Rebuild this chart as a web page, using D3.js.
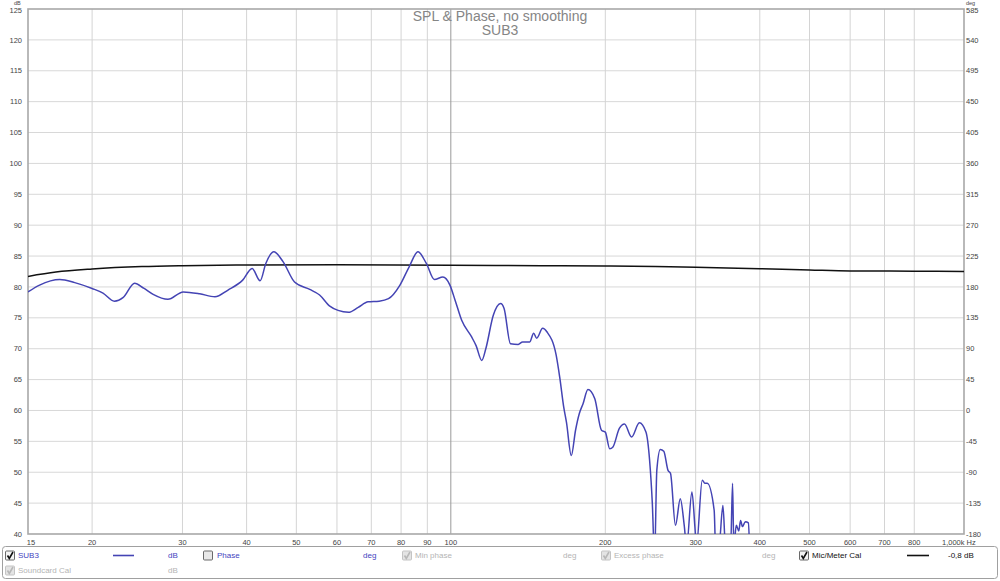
<!DOCTYPE html>
<html><head><meta charset="utf-8">
<script src="https://cdn.jsdelivr.net/npm/d3@7"></script>
<style>
html,body{margin:0;padding:0;background:#fff;}
svg{display:block;font-family:"Liberation Sans",Arial,sans-serif;}
</style></head>
<body>
<svg id="chart" width="1000" height="581"></svg>
<script>
// ---- data ----
const splFreq = [15,15.8,17.3,18.5,20,21,22.1,23,24.2,25.2,26.3,28.1,30.1,32.4,34.7,36.8,39.3,41,42.5,43.6,45.2,47.1,49.6,53.1,55.5,58.1,60.3,63.2,66,69,72.5,75.6,79.6,83,86.3,89.6,92.9,96.5,99.6,101.9,105,109.8,112,114.9,117,121,125,127,130.7,135.3,138,142.5,145,147,151,154,160.4,163,166,168,171.7,175,178,181,185,190.8,196.6,200,204,207,213,218,225,233,240,244,247,249.5,252,256,260,265,268,274,280,285,288,295,299,301,309,313,316,326,328,333,339,343,351,354,356,360,364,367,370,375,380,382];
const splDb   = [79.2,80.3,81.2,80.7,79.75,79.0,77.7,78.3,80.6,79.8,78.8,78.0,79.2,78.9,78.4,79.5,81.1,83.0,81.0,83.8,85.7,84.1,80.8,79.6,78.7,76.9,76.2,75.9,76.7,77.6,77.7,78.1,80.3,83.3,85.7,83.8,81.2,81.6,80.3,77.9,74.6,71.9,70.5,68.1,70.0,75.4,77.3,76.5,70.8,70.7,71.1,71.1,72.5,71.7,73.3,72.7,69.0,65.4,60.5,58.1,52.7,56.8,59.5,61.1,63.4,61.9,56.8,56.5,53.8,54.1,57.1,57.8,55.7,58.0,56.5,51.9,44.9,36,50.3,53.7,53.4,50.3,49.8,41.4,45.7,41.4,38,46.8,41.1,38,48.7,48.2,48.2,43.8,38,38,44.6,38,38,48.2,38,41.4,40.5,42.2,41.2,42.0,41.8,38];
const calFreq = [15,17,20,25,30,40,60,100,150,200,250,300,400,500,600,800,1000];
const calDb   = [81.7,82.4,82.9,83.3,83.45,83.55,83.6,83.5,83.45,83.4,83.3,83.2,82.95,82.75,82.6,82.55,82.5];
const xTicks = [15,20,30,40,50,60,70,80,90,100,200,300,400,500,600,700,800,1000];
const xTickLabels = ["15","20","30","40","50","60","70","80","90","100","200","300","400","500","600","700","800","1,000k Hz"];
const dbTicks = [40,45,50,55,60,65,70,75,80,85,90,95,100,105,110,115,120,125];
const degTicks = [-180,-135,-90,-45,0,45,90,135,180,225,270,315,360,405,450,495,540,585];
const title1 = "SPL & Phase, no smoothing";
const title2 = "SUB3";

// ---- scales ----
const L=28, R=964, T=9, B=534;
const x = d3.scaleLog().domain([15,1000]).range([L,R]);
const y = d3.scaleLinear().domain([40,125]).range([B,T]);
const y2 = d3.scaleLinear().domain([-180,585]).range([B,T]);

const svg = d3.select("#chart");
svg.append("defs").append("clipPath").attr("id","clip")
  .append("rect").attr("x",L).attr("y",T).attr("width",R-L).attr("height",B-T);

// grid
const grid = svg.append("g");
grid.selectAll("line.h").data(dbTicks.slice(1,-1)).join("line")
  .attr("x1",L).attr("x2",R).attr("y1",d=>y(d)).attr("y2",d=>y(d))
  .attr("stroke","#d8d8d8").attr("stroke-width",1);
grid.selectAll("line.v").data(xTicks.slice(1,-1)).join("line")
  .attr("x1",d=>x(d)).attr("x2",d=>x(d)).attr("y1",T).attr("y2",B)
  .attr("stroke",d=>d===100?"#9a9a9a":"#d4d4d4").attr("stroke-width",1);

// frame
svg.append("rect").attr("x",L).attr("y",T).attr("width",R-L).attr("height",B-T)
  .attr("fill","none").attr("stroke","#a8a8a8").attr("stroke-width",1.6);

// tick labels
const tf = {size:"7.5px", fill:"#444"};
svg.append("g").selectAll("text").data(dbTicks).join("text")
  .attr("x",22).attr("y",d=>y(d)+ (d===125?1.5:0)).attr("dy","0.35em").attr("text-anchor","end")
  .attr("font-size",tf.size).attr("fill",tf.fill).text(d=>d);
svg.append("g").selectAll("text").data(degTicks).join("text")
  .attr("x",966).attr("y",d=>y2(d)+ (d===585?1.5:0)).attr("dy","0.35em").attr("text-anchor","start")
  .attr("font-size",tf.size).attr("fill",tf.fill).text(d=>d);
svg.append("text").attr("x",14).attr("y",5).attr("font-size","5.5px").attr("fill",tf.fill).text("dB");
svg.append("text").attr("x",966).attr("y",5).attr("font-size","5.5px").attr("fill",tf.fill).text("deg");
svg.append("g").selectAll("text").data(xTicks).join("text")
  .attr("x",(d,i)=> i===0 ? x(d)+3 : (i===xTicks.length-1 ? x(d)-22 : x(d)))
  .attr("y",544.5)
  .attr("text-anchor",(d,i)=> i===xTicks.length-1 ? "start" : "middle")
  .attr("font-size",tf.size).attr("fill",tf.fill).text((d,i)=>xTickLabels[i]);

// title
svg.append("text").attr("x",500).attr("y",21).attr("text-anchor","middle")
  .attr("font-size","14px").attr("fill","#858585").text(title1);
svg.append("text").attr("x",500).attr("y",35).attr("text-anchor","middle")
  .attr("font-size","14px").attr("fill","#858585").text(title2);

// curves
const plot = svg.append("g").attr("clip-path","url(#clip)");
const line = d3.line().x(d=>x(d[0])).y(d=>y(d[1])).curve(d3.curveMonotoneX);
plot.append("path").datum(calFreq.map((f,i)=>[f,calDb[i]]))
  .attr("d",line).attr("fill","none").attr("stroke","#111").attr("stroke-width",1.5);
plot.append("path").datum(splFreq.map((f,i)=>[f,splDb[i]]))
  .attr("d",line).attr("fill","none").attr("stroke","#4444b4").attr("stroke-width",1.5);

// legend
const lg = svg.append("g");
lg.append("rect").attr("x",2.5).attr("y",546.5).attr("width",995).attr("height",32)
  .attr("rx",3).attr("fill","#fff").attr("stroke","#a0a0a0");
function checkbox(cx, cy, checked, grey){
  const g = lg.append("g");
  g.append("rect").attr("x",cx+0.5).attr("y",cy+0.5).attr("width",9).attr("height",9).attr("rx",1)
    .attr("fill", grey ? "#e4e4e4" : (checked ? "#f4f4f4" : "#e8e8e8"))
    .attr("stroke", grey ? "#c4c4c4" : "#6a6a6a");
  if(checked){
    g.append("path").attr("d",`M${cx+2.5},${cy+5} L${cx+4.3},${cy+8} L${cx+8},${cy+1.5}`)
      .attr("fill","none").attr("stroke", grey ? "#b8b8b8" : "#111").attr("stroke-width",1.6);
  }
}
function ltext(tx, ty, s, col){
  lg.append("text").attr("x",tx).attr("y",ty).attr("dy","0.35em").attr("font-size","8px").attr("fill",col).text(s);
}
const r1=555.5, r2=570.5;
checkbox(5,550.5,true,false); ltext(18,r1,"SUB3","#4444c0");
lg.append("line").attr("x1",113).attr("x2",134).attr("y1",r1).attr("y2",r1).attr("stroke","#4444b4").attr("stroke-width",1.6);
ltext(168,r1,"dB","#4444c0");
checkbox(203,550.5,false,false); ltext(217,r1,"Phase","#4444c0");
ltext(363,r1,"deg","#4444c0");
checkbox(402,550.5,true,true); ltext(415,r1,"Min phase","#b4b4b4");
ltext(563,r1,"deg","#b4b4b4");
checkbox(601,550.5,true,true); ltext(614,r1,"Excess phase","#b4b4b4");
ltext(762,r1,"deg","#b4b4b4");
checkbox(799,550.5,true,false); ltext(812,r1,"Mic/Meter Cal","#111");
lg.append("line").attr("x1",907).attr("x2",929).attr("y1",r1).attr("y2",r1).attr("stroke","#111").attr("stroke-width",1.6);
ltext(948,r1,"-0,8 dB","#111");
checkbox(5,565.5,true,true); ltext(18,r2,"Soundcard Cal","#b4b4b4");
ltext(168,r2,"dB","#b4b4b4");
</script>
</body></html>
